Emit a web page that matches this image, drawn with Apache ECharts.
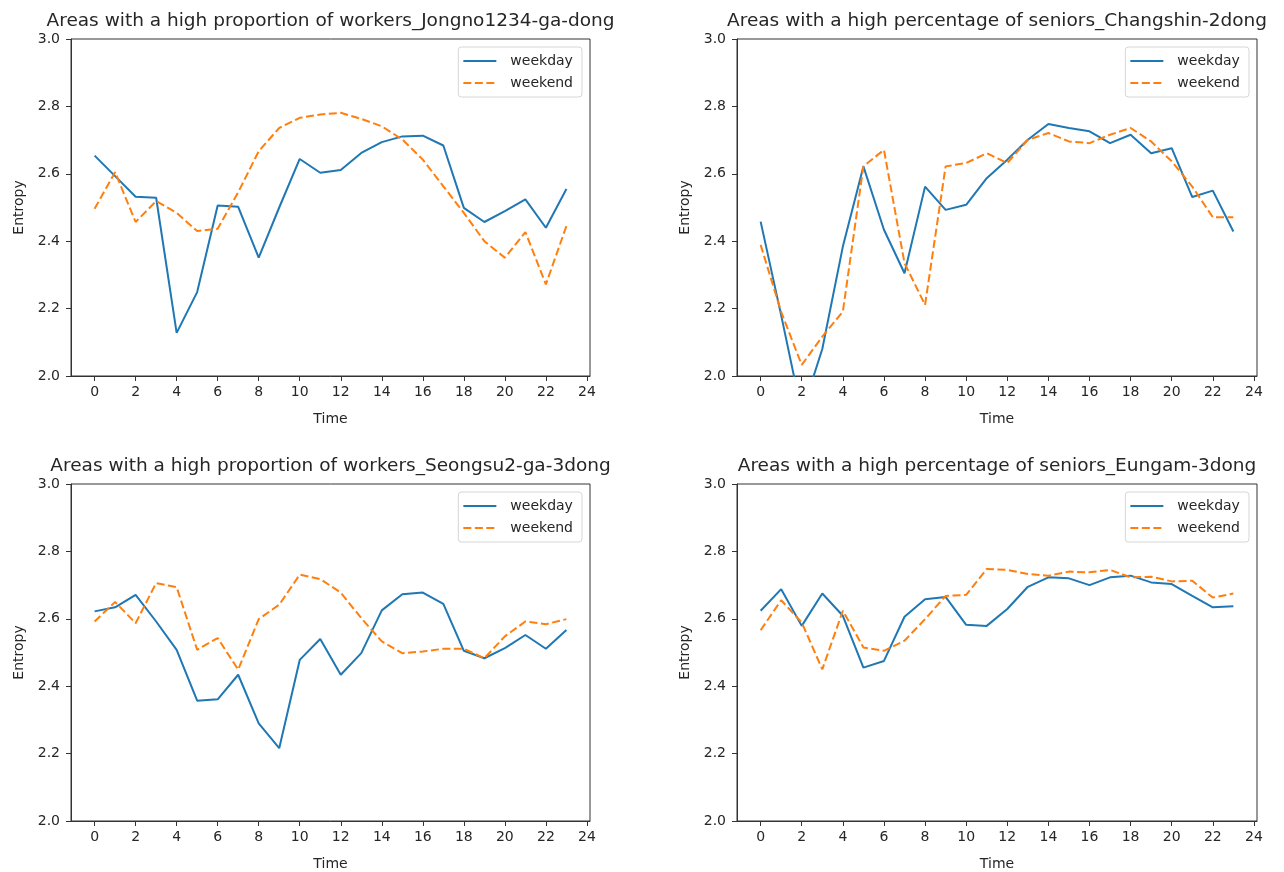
<!DOCTYPE html>
<html>
<head>
<meta charset="utf-8">
<script src="https://cdn.jsdelivr.net/npm/echarts@6/dist/echarts.min.js"></script>
<style>
  html, body { margin: 0; padding: 0; background: #fff; }
  #main { width: 1284px; height: 872px; }
</style>
</head>
<body>
<div id="main"></div>
<script>
// hour of day
const hours = [0, 1, 2, 3, 4, 5, 6, 7, 8, 9, 10, 11, 12, 13, 14, 15, 16, 17, 18, 19, 20, 21, 22, 23]
const xTicks = [0, 2, 4, 6, 8, 10, 12, 14, 16, 18, 20, 22, 24]

const titles = [
  'Areas with a high proportion of workers_Jongno1234-ga-dong',
  'Areas with a high percentage of seniors_Changshin-2dong',
  'Areas with a high proportion of workers_Seongsu2-ga-3dong',
  'Areas with a high percentage of seniors_Eungam-3dong'
]

// Jongno1234-ga-dong
const jongnoWeekday = [2.654, 2.593, 2.532, 2.529, 2.128, 2.249, 2.506, 2.502, 2.351, 2.500, 2.644, 2.603,
  2.611, 2.662, 2.694, 2.711, 2.713, 2.684, 2.499, 2.457, 2.489, 2.524, 2.440, 2.555]
const jongnoWeekend = [2.496, 2.605, 2.457, 2.519, 2.484, 2.430, 2.437, 2.545, 2.667, 2.736, 2.766, 2.776,
  2.781, 2.763, 2.741, 2.702, 2.642, 2.563, 2.484, 2.400, 2.351, 2.427, 2.272, 2.445]

// Changshin-2dong
const changshinWeekday = [2.458, 2.18, 1.89, 2.08, 2.384, 2.622, 2.434, 2.305, 2.562, 2.493, 2.508, 2.587,
  2.642, 2.701, 2.748, 2.736, 2.726, 2.691, 2.716, 2.661, 2.676, 2.531, 2.550, 2.429]
const changshinWeekend = [2.389, 2.19, 2.033, 2.117, 2.191, 2.622, 2.671, 2.335, 2.211, 2.622, 2.632, 2.661,
  2.632, 2.701, 2.721, 2.696, 2.691, 2.716, 2.736, 2.696, 2.637, 2.562, 2.471, 2.471]

// Seongsu2-ga-3dong
const seongsuWeekday = [2.622, 2.634, 2.671, 2.592, 2.508, 2.357, 2.361, 2.434, 2.290, 2.216, 2.478, 2.540,
  2.434, 2.498, 2.625, 2.673, 2.678, 2.644, 2.505, 2.483, 2.513, 2.552, 2.511, 2.567]
const seongsuWeekend = [2.592, 2.650, 2.587, 2.706, 2.694, 2.508, 2.543, 2.449, 2.599, 2.642, 2.731, 2.718,
  2.678, 2.602, 2.533, 2.498, 2.503, 2.511, 2.511, 2.483, 2.548, 2.592, 2.584, 2.599]

// Eungam-3dong
const eungamWeekday = [2.624, 2.688, 2.579, 2.675, 2.609, 2.455, 2.475, 2.606, 2.658, 2.665, 2.582, 2.579,
  2.629, 2.695, 2.723, 2.720, 2.700, 2.723, 2.728, 2.708, 2.703, 2.668, 2.634, 2.637]
const eungamWeekend = [2.566, 2.655, 2.589, 2.450, 2.624, 2.515, 2.505, 2.535, 2.599, 2.668, 2.671, 2.748,
  2.745, 2.733, 2.728, 2.740, 2.738, 2.745, 2.723, 2.725, 2.711, 2.713, 2.663, 2.675]

const weekdayData = [jongnoWeekday, changshinWeekday, seongsuWeekday, eungamWeekday]
const weekendData = [jongnoWeekend, changshinWeekend, seongsuWeekend, eungamWeekend]

// plot boxes (px)
const boxes = [
  { left: 71, top: 39, width: 519, height: 337 },
  { left: 737, top: 39, width: 520, height: 337 },
  { left: 71, top: 484, width: 519, height: 337 },
  { left: 737, top: 484, width: 520, height: 337 }
]

const BLUE = '#1f77b4'
const ORANGE = '#ff7f0e'
const TEXT = '#262626'
const SPINE = '#333'
const FONT = 'DejaVu Sans'

const chart = echarts.init(document.getElementById('main'))

const grid = boxes.map(b => ({
  left: b.left, top: b.top, width: b.width, height: b.height,
  show: true, borderColor: SPINE, borderWidth: 1, backgroundColor: 'transparent'
}))

const xAxis = boxes.map((b, i) => ({
  type: 'value', gridIndex: i, min: -1.15, max: 24.15,
  name: 'Time', nameLocation: 'middle', nameGap: 36,
  nameTextStyle: { color: TEXT, fontFamily: FONT, fontSize: 14 },
  axisLine: { show: true, onZero: false, lineStyle: { color: SPINE, width: 1 } },
  axisTick: { show: true, length: 5, lineStyle: { color: SPINE }, customValues: xTicks },
  axisLabel: { color: TEXT, fontFamily: FONT, fontSize: 14, margin: 9, customValues: xTicks },
  splitLine: { show: false }
}))

const yAxis = boxes.map((b, i) => ({
  type: 'value', gridIndex: i, min: 2, max: 3, interval: 0.2,
  name: 'Entropy', nameLocation: 'middle', nameGap: 45, nameRotate: 90,
  nameTextStyle: { color: TEXT, fontFamily: FONT, fontSize: 14 },
  axisLine: { show: true, onZero: false, lineStyle: { color: SPINE, width: 1 } },
  axisTick: { show: true, length: 5, lineStyle: { color: SPINE } },
  axisLabel: { color: TEXT, fontFamily: FONT, fontSize: 14, margin: 11,
    formatter: v => v.toFixed(1) },
  splitLine: { show: false }
}))

const series = []
boxes.forEach((b, i) => {
  series.push({
    name: 'weekday', type: 'line', xAxisIndex: i, yAxisIndex: i,
    data: hours.map((h, k) => [h, weekdayData[i][k]]),
    symbol: 'none', clip: true, animation: false,
    lineStyle: { color: BLUE, width: 2 }, itemStyle: { color: BLUE }
  })
  series.push({
    name: 'weekend', type: 'line', xAxisIndex: i, yAxisIndex: i,
    data: hours.map((h, k) => [h, weekendData[i][k]]),
    symbol: 'none', clip: true, animation: false,
    lineStyle: { color: ORANGE, width: 2, type: [8, 3.5] }, itemStyle: { color: ORANGE }
  })
})

const legend = boxes.map(b => ({
  orient: 'vertical',
  right: 1284 - (b.left + b.width) + 8,
  top: b.top + 8,
  data: ['weekday', 'weekend'],
  itemWidth: 33, itemHeight: 14, itemGap: 8,
  padding: [7, 9, 7, 4],
  borderColor: '#d6d6d6', borderWidth: 1, borderRadius: 3,
  backgroundColor: 'rgba(255,255,255,0.8)',
  itemStyle: { opacity: 0 },
  textStyle: { color: TEXT, fontFamily: FONT, fontSize: 14, padding: [0, 0, 0, 9] },
  selectedMode: false
}))

const graphic = boxes.map((b, i) => ({
  type: 'text',
  x: b.left + b.width / 2,
  y: b.top - 18,
  style: {
    text: titles[i], fill: TEXT, font: '18.5px "DejaVu Sans"',
    textAlign: 'center', textVerticalAlign: 'middle'
  }
}))

chart.setOption({
  animation: false,
  backgroundColor: '#fff',
  grid, xAxis, yAxis, series, legend, graphic
})

window.addEventListener('resize', () => {
  chart.resize()
})
</script>
</body>
</html>
